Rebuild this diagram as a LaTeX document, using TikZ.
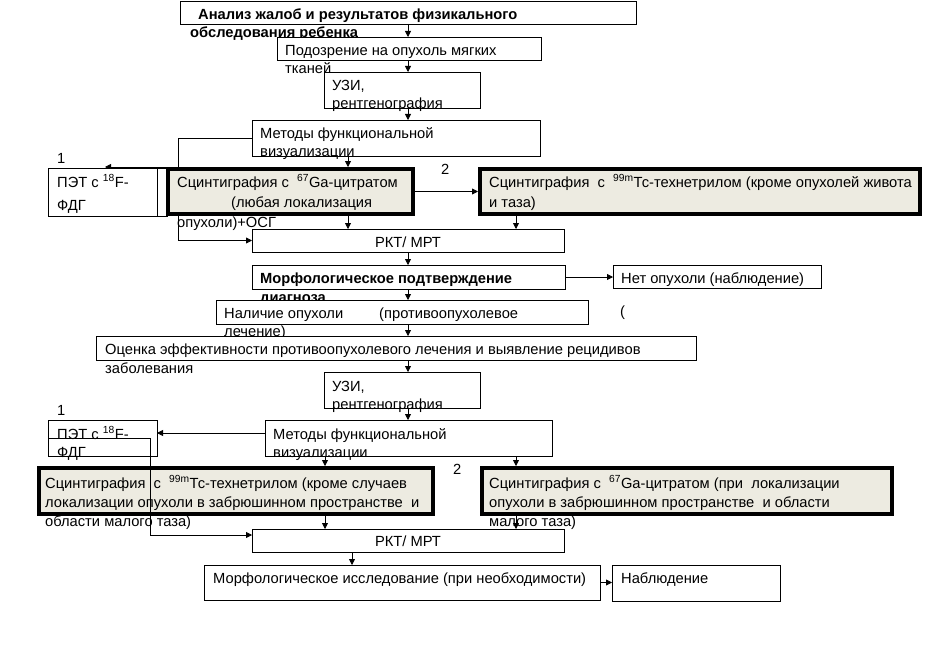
\documentclass[tikz,border=0pt]{standalone}
\usepackage{fontspec}
\setmainfont{Liberation Sans}
\usetikzlibrary{arrows.meta,calc,backgrounds}
\definecolor{beige}{HTML}{EDEBE1}
\tikzset{
  box/.style={draw, line width=0.8pt, anchor=north west, inner sep=0pt, outer sep=0pt, fill=white},
  tbox/.style={draw, line width=4pt, anchor=north west, inner sep=0pt, outer sep=0pt, fill=beige},
  txt/.style={anchor=base west, inner sep=0pt, font=\fontsize{14.7}{17}\selectfont},
  ctxt/.style={anchor=base, inner sep=0pt, font=\fontsize{14.7}{17}\selectfont},
  btxt/.style={anchor=base west, inner sep=0pt, font=\fontsize{14.7}{17}\selectfont\bfseries},
  conn/.style={line width=0.8pt},
  arr/.style={line width=0.8pt, -{Triangle[length=6pt,width=6pt]}},
}
\begin{document}
\begin{tikzpicture}[x=1pt,y=-1pt]
\useasboundingbox (0,0) rectangle (926,650);
\coordinate (X) at (408,0);
\coordinate (X2) at (348,0);
\coordinate (X3) at (516,0);
\coordinate (X4) at (325,0);
\coordinate (X5) at (352,0);
% ---------- upper part
\node[box, minimum width=456, minimum height=23] (A) at (180,1) {};
\node[btxt] (tA1) at (198,20) {Анализ жалоб и результатов физикального};
\node[btxt] (tA2) at (190,38) {обследования ребенка};
\node[box, minimum width=264, minimum height=23] (B) at (277,37) {};
\node[txt] (tB1) at (285,56) {Подозрение на опухоль мягких};
\node[txt] (tB2) at (285,74) {тканей};
\node[box, minimum width=156, minimum height=36] (C) at (324,72) {};
\node[txt] (tC1) at (332,91) {УЗИ,};
\node[txt] (tC2) at (332,109) {рентгенография};
\node[box, minimum width=288, minimum height=36] (D) at (252,120) {};
\node[txt] (tD1) at (260,139) {Методы функциональной};
\node[txt] (tD2) at (260,157) {визуализации};
\node[box, minimum width=119, minimum height=48] (E) at (48,168) {};
\draw[conn] ($(E.north east)+(-10,0)$) -- ($(E.south east)+(-10,0)$);
\node[txt] (tE1) at (57,187) {ПЭТ с \textsuperscript{18}F-};
\node[txt] (tE2) at (57,210) {ФДГ};
\node[txt] (n1a) at (57,163) {1};
\node[tbox, minimum width=245, minimum height=45] (F) at (168,169) {};
\node[txt] (tF1) at (177,187) {Сцинтиграфия с\ \ \textsuperscript{67}Ga-цитратом};
\node[txt] (tF2) at (231,207) {(любая локализация};
\node[txt] (tF3) at (177,227) {опухоли)+ОСГ};
\node[txt] (n2a) at (441,175) {2};
\node[tbox, minimum width=440, minimum height=45] (G) at (480,169) {};
\node[txt] (tG1) at (489,187) {Сцинтиграфия\ \ с\ \ \textsuperscript{99m}Тс-технетрилом (кроме опухолей живота};
\node[txt] (tG2) at (489,207) {и таза)};
\node[box, minimum width=312, minimum height=23] (H) at (252,229) {};
\node[ctxt] (tH) at (408,247) {РКТ/ МРТ};
\node[box, minimum width=313, minimum height=24] (I) at (252,265) {};
\node[btxt] (tI1) at (260,283) {Морфологическое подтверждение};
\node[btxt] (tI2) at (260,302) {диагноза};
\node[box, minimum width=208, minimum height=23] (J) at (613,265) {};
\node[txt] (tJ) at (621,283) {Нет опухоли (наблюдение)};
\node[txt] (tpar) at (620,316) {(};
\node[box, minimum width=372, minimum height=24] (K) at (216,300) {};
\node[txt] (tK1) at (224,318) {Наличие опухоли\hspace{36pt}(противоопухолевое};
\node[txt] (tK2) at (224,336) {лечение)};
\node[box, minimum width=600, minimum height=24] (L) at (96,336) {};
\node[txt] (tL1) at (105,354) {Оценка эффективности противоопухолевого лечения и выявление рецидивов};
\node[txt] (tL2) at (105,373) {заболевания};
\node[box, minimum width=156, minimum height=36] (M) at (324,372) {};
\node[txt] (tM1) at (332,391) {УЗИ,};
\node[txt] (tM2) at (332,409) {рентгенография};
\node[box, minimum width=287, minimum height=36] (N) at (265,420) {};
\node[txt] (tN1) at (273,439) {Методы функциональной};
\node[txt] (tN2) at (273,457) {визуализации};
\node[box, minimum width=109, minimum height=36] (O) at (48,420) {};
\node[txt] (tO1) at (57,439) {ПЭТ с \textsuperscript{18}F-};
\node[txt] (tO2) at (57,457) {ФДГ};
\node[txt] (n1b) at (57,415) {1};
\node[tbox, minimum width=394, minimum height=46] (P) at (39,468) {};
\node[txt] (tP1) at (45,488) {Сцинтиграфия\ \ с\ \ \textsuperscript{99m}Тс-технетрилом (кроме случаев};
\node[txt] (tP2) at (45,507) {локализации опухоли в забрюшинном пространстве\ \ и};
\node[txt] (tP3) at (45,526) {области малого таза)};
\node[txt] (n2b) at (453,474) {2};
\node[tbox, minimum width=410, minimum height=46] (Q) at (482,468) {};
\node[txt] (tQ1) at (489,488) {Сцинтиграфия с\ \ \textsuperscript{67}Ga-цитратом (при\ \ локализации};
\node[txt] (tQ2) at (489,507) {опухоли в забрюшинном пространстве\ \ и области};
\node[txt] (tQ3) at (489,526) {малого таза)};
\node[box, minimum width=312, minimum height=23] (R) at (252,529) {};
\node[ctxt] (tR) at (408,546) {РКТ/ МРТ};
\node[box, minimum width=396, minimum height=35] (S) at (204,565) {};
\node[txt] (tS) at (213,583) {Морфологическое исследование (при необходимости)};
\node[box, minimum width=168, minimum height=36] (T) at (612,565) {};
\node[txt] (tT) at (621,583) {Наблюдение};
% ---------- bracket connector under the thick box
\begin{scope}[on background layer]
\fill[white] (0,0) rectangle (926,650);
\coordinate (b1) at (178,138);
\coordinate (b2) at (178,167);
\draw[arr] (D.west) -- (b1) |- (H.west);
\draw[arr] (b2) -- (105,167);
\end{scope}
% ---------- connectors
\draw[arr] (A.south -| X) -- (B.north -| X);
\draw[arr] (B.south -| X) -- (C.north -| X);
\draw[arr] (C.south -| X) -- (D.north -| X);
\draw[arr] (D.south -| X2) -- ($(F.north -| X2)+(0,-2)$);
\draw[arr] ($(F.south -| X2)+(0,2)$) -- (H.north -| X2);
\draw[arr] ($(G.south -| X3)+(0,2)$) -- (H.north -| X3);
\draw[arr] ($(F.east)+(2,0)$) -- ($(G.west)+(-2,0)$);
\draw[arr] (H.south -| X) -- (I.north -| X);
\draw[arr] (I.east) -- (I.east -| J.west);
\draw[arr] (I.south -| X) -- (K.north -| X);
\draw[arr] (K.south -| X) -- (L.north -| X);
\draw[arr] (L.south -| X) -- (M.north -| X);
\draw[arr] (M.south -| X) -- (N.north -| X);
\coordinate (nw) at ($(N.north west)+(0,13)$);
\draw[arr] (nw) -- (nw -| O.east);
\draw[arr] (N.south -| X4) -- ($(P.north -| X4)+(0,-2)$);
\draw[arr] (N.south -| X3) -- ($(Q.north -| X3)+(0,-2)$);
\draw[arr] ($(P.south -| X4)+(0,2)$) -- (R.north -| X4);
\draw[arr] ($(Q.south -| X3)+(0,2)$) -- (R.north -| X3);
\coordinate (c1) at (48,438);
\coordinate (c2) at (150,438);
\coordinate (c3) at (150,535);
\draw[arr] (c1) -- (c2) -- (c3) -- (c3 -| R.west);
\draw[arr] (R.south -| X5) -- (S.north -| X5);
\draw[arr] (S.east) -- (S.east -| T.west);
\end{tikzpicture}
\end{document}
